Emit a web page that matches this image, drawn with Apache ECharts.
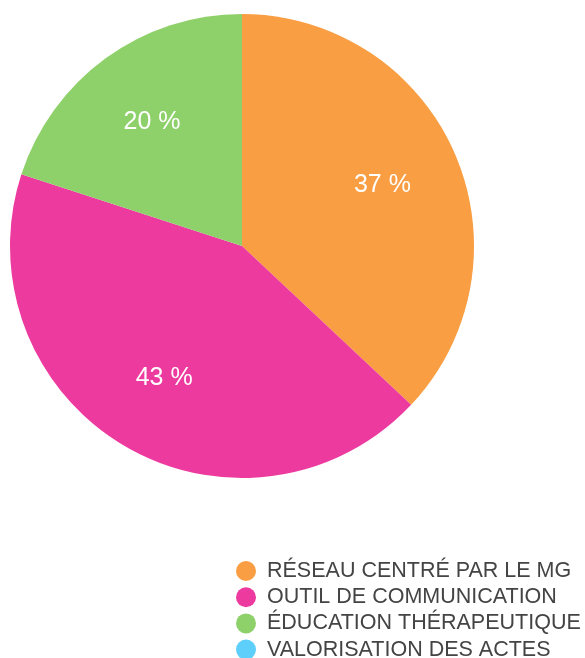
<!DOCTYPE html>
<html>
<head>
<meta charset="utf-8">
<script src="https://cdn.jsdelivr.net/npm/echarts@6/dist/echarts.min.js"></script>
<style>
  html, body { margin: 0; padding: 0; background: #fff; }
  #chart { width: 585px; height: 658px; }
</style>
</head>
<body>
<div id="chart"></div>
<script>
var categories = ['RÉSEAU CENTRÉ PAR LE MG', 'OUTIL DE COMMUNICATION', 'ÉDUCATION THÉRAPEUTIQUE', 'VALORISATION DES ACTES'];
var values = [37, 43, 20, 0];
var colors = ['#F99E42', '#EC3A9F', '#8ED06A', '#5DCFFA'];

var pieData = categories.map(function (name, i) {
    return { name: name, value: values[i] };
});

var chart = echarts.init(document.getElementById('chart'));
var option = {
    color: colors,
    animation: false,
    legend: {
        orient: 'vertical',
        left: 231,
        top: 555,
        height: 200,
        icon: 'circle',
        itemWidth: 20,
        itemHeight: 20,
        itemGap: 4.2,
        data: categories,
        textStyle: {
            fontFamily: 'Liberation Sans',
            fontSize: 21.5,
            color: '#444',
            padding: [0, 0, 0, 6]
        }
    },
    series: [
        {
            // the pie itself
            type: 'pie',
            center: [242, 246],
            radius: [0, 232],
            startAngle: 90,
            clockwise: true,
            silent: true,
            label: { show: false },
            labelLine: { show: false },
            data: pieData
        },
        {
            // label-only ring so labels sit at ~2/3 of the radius
            type: 'pie',
            center: [242, 246],
            radius: [68, 232],
            startAngle: 90,
            clockwise: true,
            silent: true,
            itemStyle: { color: 'rgba(0,0,0,0)' },
            label: {
                show: true,
                position: 'inside',
                fontFamily: 'Liberation Sans',
                fontSize: 25,
                color: '#fff',
                formatter: function (p) {
                    return p.value > 0 ? p.value + ' %' : '';
                }
            },
            labelLine: { show: false },
            data: pieData
        }
    ]
};
chart.setOption(option);
</script>
</body>
</html>
